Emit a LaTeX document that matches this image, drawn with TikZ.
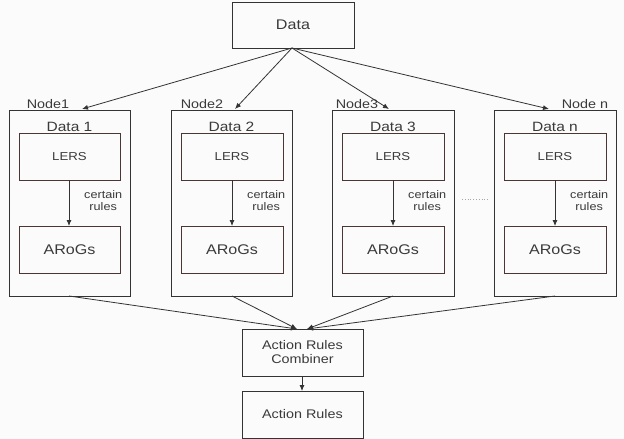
\documentclass[tikz,border=0pt]{standalone}
\usepackage{fontspec}
\setmainfont{Liberation Sans}[FakeStretch=1.15]
\usetikzlibrary{arrows.meta}
\definecolor{ink}{HTML}{333333}
\definecolor{txt}{HTML}{3A3A3A}
\definecolor{inner}{HTML}{4A3634}
\definecolor{bg}{HTML}{FBFBFB}
\tikzset{
  box/.style={draw=ink, line width=0.9pt, inner sep=0pt},
  ibox/.style={draw=inner, line width=0.9pt, inner sep=0pt},
  arr/.style={draw=ink, line width=0.8pt, -{Latex[length=6pt,width=5pt]}},
  lbl/.style={text=txt, inner sep=0pt, align=center},
}
\begin{document}
\begin{tikzpicture}[x=1pt,y=-1pt]
\fill[bg] (0,0) rectangle (624,439);
\useasboundingbox (0,0) rectangle (624,439);

% source data
\draw[box] (232,2) rectangle (354,48);
\node[lbl, font=\fontsize{14}{16}\selectfont] (data) at (293,25) {Data};
\coordinate (dsrc) at (292,48);

% worker nodes: left x, right x, inner left, inner right, arrow x, index, labels
\foreach \l/\r/\il/\ir/\ax/\i/\nm/\dn/\nx in {
   9/130/19/120/69/1/Node1/Data 1/48,
   171/292/181/283/232/2/Node2/Data 2/202,
   332/454/342/444/393/3/Node3/Data 3/357,
   494/616/504/606/555/4/Node n/Data n/585}{
  \draw[box] (\l,110) rectangle (\r,296);
  \coordinate (nb\i) at (\ax,296);
  \node[lbl, font=\fontsize{12.5}{15}\selectfont] (nl\i) at (\nx,104) {\nm};
  \node[lbl, font=\fontsize{13.5}{15}\selectfont] (dl\i) at ({(\l+\r)/2},126.5) {\dn};
  \draw[ibox] (\il,133) rectangle (\ir,180);
  \node[lbl, font=\fontsize{11.5}{13}\selectfont] (lers\i) at ({(\il+\ir)/2},156.5) {LERS};
  \draw[ibox] (\il,226) rectangle (\ir,273);
  \node[lbl, font=\fontsize{14}{16}\selectfont] (arog\i) at ({(\il+\ir)/2},249.5) {ARoGs};
  \coordinate (lt\i) at (\ax,180);
  \coordinate (ab\i) at (\ax,226);
  \draw[arr] (lt\i) -- (ab\i);
  \node[lbl, font=\fontsize{11}{12}\selectfont, anchor=west] (cr\i) at (\ax+15,201) {certain\\rules};
}

% arrows from the data source to each node
\coordinate (t1) at (82,109);
\coordinate (t2) at (235,109);
\coordinate (t3) at (389,109);
\coordinate (t4) at (549,109);
\foreach \i in {1,...,4}{\draw[arr] (dsrc) -- (t\i);}

% ellipsis between node 3 and node n
\draw[draw=gray!70, line width=0.8pt, dotted] (462,199) -- (488,199);

% combiner and result
\draw[box] (242,329) rectangle (363,376);
\node[lbl, font=\fontsize{12.5}{14}\selectfont] (comb) at (302.5,352.5) {Action Rules\\Combiner};
\draw[box] (242,391) rectangle (363,438);
\node[lbl, font=\fontsize{12.5}{14}\selectfont] (res) at (302.5,414.5) {Action Rules};

\coordinate (ctl) at (297,329);
\coordinate (ctr) at (307,329);
\draw[arr] (nb1) -- (ctl);
\draw[arr] (nb2) -- (ctl);
\draw[arr] (nb3) -- (ctr);
\draw[arr] (nb4) -- (ctr);
\coordinate (cb) at (302,376);
\coordinate (rt) at (302,391);
\draw[arr] (cb) -- (rt);
\end{tikzpicture}
\end{document}
